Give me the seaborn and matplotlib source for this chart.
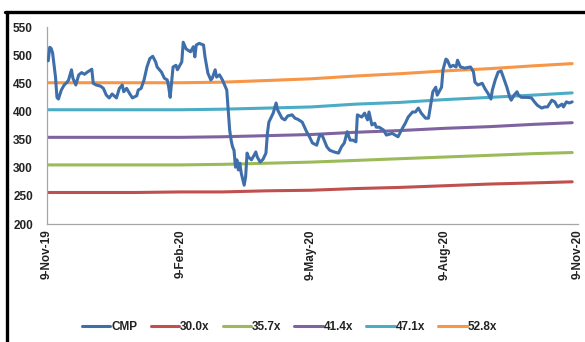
import matplotlib
matplotlib.use("Agg")
import matplotlib.pyplot as plt
import seaborn as sns
import pandas as pd
import numpy as np
from matplotlib.lines import Line2D

# ---- data ----
start_date = "2019-11-09"
# CMP: days since 9-Nov-19 and price
cmp_days = [1, 2, 3, 4, 6, 7, 8, 10, 12, 14, 15, 17, 18, 20, 22, 24, 26, 28, 31, 32,
            34, 37, 39, 41, 43, 45, 48, 50, 52, 53, 55, 57, 59, 62, 63, 65, 67, 69, 71, 73,
            75, 76, 79, 81, 83, 84, 85, 86, 87, 89, 90, 93, 94, 96, 99, 101, 102, 103, 105, 108,
            109, 111, 113, 114, 116, 117, 119, 121, 122, 124, 125, 126, 127, 128, 129, 130, 131, 132, 133, 134,
            136, 137, 138, 139, 141, 143, 144, 145, 147, 149, 151, 152, 153, 156, 158, 159, 162, 164, 166, 169,
            171, 173, 176, 179, 181, 183, 186, 188, 190, 193, 195, 198, 201, 203, 205, 207, 209, 211, 213, 214,
            217, 219, 221, 222, 224, 226, 227, 229, 232, 234, 238, 240, 242, 245, 247, 249, 252, 254, 256, 258,
            261, 263, 265, 266, 268, 269, 272, 273, 275, 276, 278, 280, 282, 283, 285, 288, 292, 294, 295, 297,
            300, 302, 304, 306, 307, 309, 311, 313, 314, 317, 319, 320, 322, 324, 325, 327, 331, 334, 336, 338,
            341, 343, 345, 348, 350, 352, 355, 356, 358, 360, 362]
cmp_vals = [490, 514, 512, 504, 461, 425, 422, 438, 447, 452, 456, 474, 459, 447, 465, 469, 466, 470, 475, 450,
            447, 445, 441, 429, 424, 431, 424, 441, 447, 435, 441, 432, 424, 428, 438, 441, 456, 479, 494, 498,
            488, 479, 470, 459, 456, 443, 425, 452, 479, 482, 474, 488, 523, 511, 506, 515, 497, 518, 521, 518,
            497, 468, 456, 459, 474, 461, 465, 456, 450, 438, 403, 367, 349, 337, 331, 301, 314, 296, 308, 290,
            269, 284, 326, 319, 314, 323, 328, 319, 310, 315, 326, 361, 381, 397, 415, 403, 388, 385, 392, 394,
            388, 386, 381, 364, 355, 344, 340, 358, 356, 337, 331, 328, 326, 337, 344, 364, 349, 349, 346, 394,
            390, 397, 385, 399, 376, 379, 372, 372, 367, 358, 361, 358, 355, 370, 379, 390, 399, 399, 406, 397,
            388, 388, 420, 435, 443, 429, 443, 474, 493, 491, 479, 482, 479, 491, 479, 477, 479, 470, 452, 447,
            450, 440, 432, 422, 438, 456, 470, 472, 465, 443, 425, 420, 429, 435, 429, 425, 425, 424, 417, 411,
            406, 408, 408, 420, 417, 408, 413, 408, 417, 415, 417]

# PE bands at monthly points (9th of each month, Nov-19 .. Nov-20; last point 5-Nov-20)
band_dates = ["2019-11-09", "2019-12-09", "2020-01-09", "2020-02-09", "2020-03-09", "2020-04-09",
              "2020-05-09", "2020-06-09", "2020-07-09", "2020-08-09", "2020-09-09", "2020-10-09",
              "2020-11-05"]
band_30_0 = [256, 256, 256, 257, 257, 259, 260, 263, 265, 268, 271, 273, 275]
band_35_7 = [305, 305, 305, 305, 306, 308, 310, 313, 316, 319, 322, 325, 327]
band_41_4 = [354, 354, 354, 354, 355, 357, 359, 363, 366, 370, 373, 377, 380]
band_47_1 = [403, 403, 403, 403, 404, 406, 408, 413, 416, 421, 425, 429, 433]
band_52_8 = [451, 451, 451, 451, 452, 455, 458, 463, 467, 472, 476, 481, 485]

series_names = ["CMP", "30.0x", "35.7x", "41.4x", "47.1x", "52.8x"]
series_colors = ["#3F6FAA", "#C0504D", "#9BBB59", "#7F63A1", "#4BACC6", "#F79646"]
tick_dates = ["2019-11-09", "2020-02-09", "2020-05-09", "2020-08-09", "2020-11-09"]
tick_labels = ["9-Nov-19", "9-Feb-20", "9-May-20", "9-Aug-20", "9-Nov-20"]

# ---- build tidy frame ----
cmp_df = pd.DataFrame({
    "date": pd.Timestamp(start_date) + pd.to_timedelta(cmp_days, unit="D"),
    "value": cmp_vals, "series": "CMP"})
frames = [cmp_df]
for name, vals in zip(series_names[1:], [band_30_0, band_35_7, band_41_4, band_47_1, band_52_8]):
    frames.append(pd.DataFrame({"date": pd.to_datetime(band_dates), "value": vals, "series": name}))
df = pd.concat(frames, ignore_index=True)

sns.set_theme(style="white")
plt.rcParams["font.family"] = ["Liberation Sans", "DejaVu Sans"]

fig = plt.figure(figsize=(5.85, 3.42), dpi=100)
ax = fig.add_axes([0.080, 0.345, 0.908, 0.576])

palette = dict(zip(series_names, series_colors))
# draw bands first, CMP on top
for name in series_names[1:] + ["CMP"]:
    sub = df[df["series"] == name]
    sns.lineplot(data=sub, x="date", y="value", color=palette[name], lw=2.2,
                 ax=ax, legend=False, estimator=None, sort=True,
                 zorder=3 if name == "CMP" else 2)

ax.set_ylim(200, 550)
ax.set_yticks(range(200, 551, 50))
ax.set_xlim(pd.Timestamp("2019-11-09"), pd.Timestamp("2020-11-09"))
ax.set_xticks(pd.to_datetime(tick_dates))
ax.set_xticklabels(tick_labels, rotation=90, fontweight="bold", fontsize=8.5, color="#222222")
for lab in ax.get_yticklabels():
    lab.set_fontweight("bold")
    lab.set_fontsize(8.5)
    lab.set_color("#222222")
ax.tick_params(axis="x", length=0, pad=4)
ax.tick_params(axis="y", length=0, pad=10)
ax.set_xlabel("")
ax.set_ylabel("")
ax.grid(False)
for s in ["top", "right"]:
    ax.spines[s].set_visible(False)
for s in ["left", "bottom"]:
    ax.spines[s].set_color("#A6A6A6")
    ax.spines[s].set_linewidth(0.9)

handles = [Line2D([0], [0], color=c, lw=2.2) for c in series_colors]
leg = fig.legend(handles, series_names, loc="center", bbox_to_anchor=(0.495, 0.044), ncol=6,
                 frameon=False, fontsize=8.5, handlelength=2.4, handletextpad=0.1,
                 columnspacing=1.1)
for t in leg.get_texts():
    t.set_fontweight("bold")
    t.set_color("#222222")

# outer black frame (left and top edges visible)
fig.add_artist(Line2D([6.5 / 585, 6.5 / 585], [0, 1 - 11.5 / 342], color="black", lw=2.4,
                      transform=fig.transFigure))
fig.add_artist(Line2D([5 / 585, 1], [1 - 11.5 / 342, 1 - 11.5 / 342], color="black", lw=2.4,
                      transform=fig.transFigure))

fig.savefig("out.png", dpi=100)
